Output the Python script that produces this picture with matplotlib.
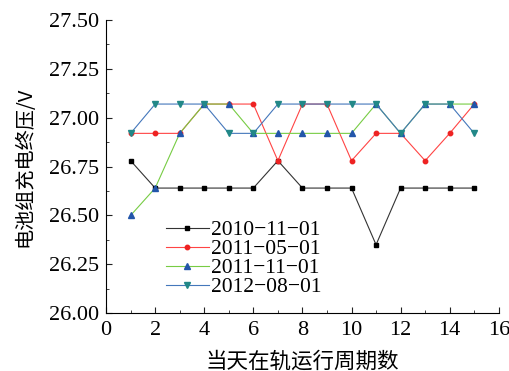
import matplotlib
matplotlib.use('Agg')
import matplotlib.pyplot as plt
from matplotlib.ticker import MultipleLocator

x = list(range(1, 16))
v_2010_11 = [26.78, 26.64, 26.64, 26.64, 26.64, 26.64, 26.78, 26.64, 26.64, 26.64, 26.35, 26.64, 26.64, 26.64, 26.64]
v_2011_05 = [26.92, 26.92, 26.92, 27.07, 27.07, 27.07, 26.78, 27.07, 27.07, 26.78, 26.92, 26.92, 26.78, 26.92, 27.07]
v_2011_11 = [26.50, 26.64, 26.92, 27.07, 27.07, 26.92, 26.92, 26.92, 26.92, 26.92, 27.07, 26.92, 27.07, 27.07, 27.07]
v_2012_08 = [26.92, 27.07, 27.07, 27.07, 26.92, 26.92, 27.07, 27.07, 27.07, 27.07, 27.07, 26.92, 27.07, 27.07, 26.92]
labels = ['2010-11-01', '2011-05-01', '2011-11-01', '2012-08-01']

plt.rcParams['font.family'] = ['Liberation Serif', 'Noto Sans CJK SC']
plt.rcParams['axes.unicode_minus'] = False

fig = plt.figure(figsize=(5.1, 3.71), dpi=100)
ax = fig.add_axes([0.208, 0.156, 0.770, 0.790])

ax.plot(x, v_2010_11, color='#333333', lw=0.8, marker='s', ms=3.2, mfc='black', mec='black', label=labels[0].replace('-', '\u2212'))
ax.plot(x, v_2011_05, color='#ff4444', lw=0.8, marker='o', ms=3.2, mfc='#ee2222', mec='#ee2222', label=labels[1].replace('-', '\u2212'))
ax.plot(x, v_2011_11, color='#77cc44', lw=0.8, marker='^', ms=4, mfc='#2255aa', mec='#2255aa', label=labels[2].replace('-', '\u2212'))
ax.plot(x, v_2012_08, color='#4477bb', lw=0.8, marker='v', ms=4, mfc='#228888', mec='#228888', label=labels[3].replace('-', '\u2212'))

ax.set_xlim(0, 16)
ax.set_ylim(26.0, 27.5)
ax.xaxis.set_major_locator(MultipleLocator(2))
ax.xaxis.set_minor_locator(MultipleLocator(1))
ax.yaxis.set_major_locator(MultipleLocator(0.25))
ax.yaxis.set_minor_locator(MultipleLocator(0.125))
ax.yaxis.set_major_formatter(matplotlib.ticker.FormatStrFormatter('%.2f'))
ax.tick_params(which='both', direction='in', top=False, right=False, labelsize=16, color='#222222')
ax.tick_params(which='major', length=4)
ax.tick_params(axis='x', which='major', pad=6)
ax.tick_params(axis='y', which='major', pad=5)
ax.tick_params(which='minor', length=2.5)
ax.spines['top'].set_visible(False)
ax.spines['right'].set_visible(False)

ax.set_xlabel('当天在轨运行周期数', fontsize=15.5, family=['Noto Sans CJK SC'], labelpad=7)
ax.set_ylabel('电池组充电终压/V', fontsize=14.5, family=['Noto Sans CJK SC', 'Liberation Serif'], labelpad=10)

ax.legend(loc='lower left', bbox_to_anchor=(0.13, 0.025), frameon=False, fontsize=15.5,
          handlelength=2.0, handletextpad=0.1, labelspacing=-0.05, borderaxespad=0.0)

fig.savefig('out.png', dpi=100)
